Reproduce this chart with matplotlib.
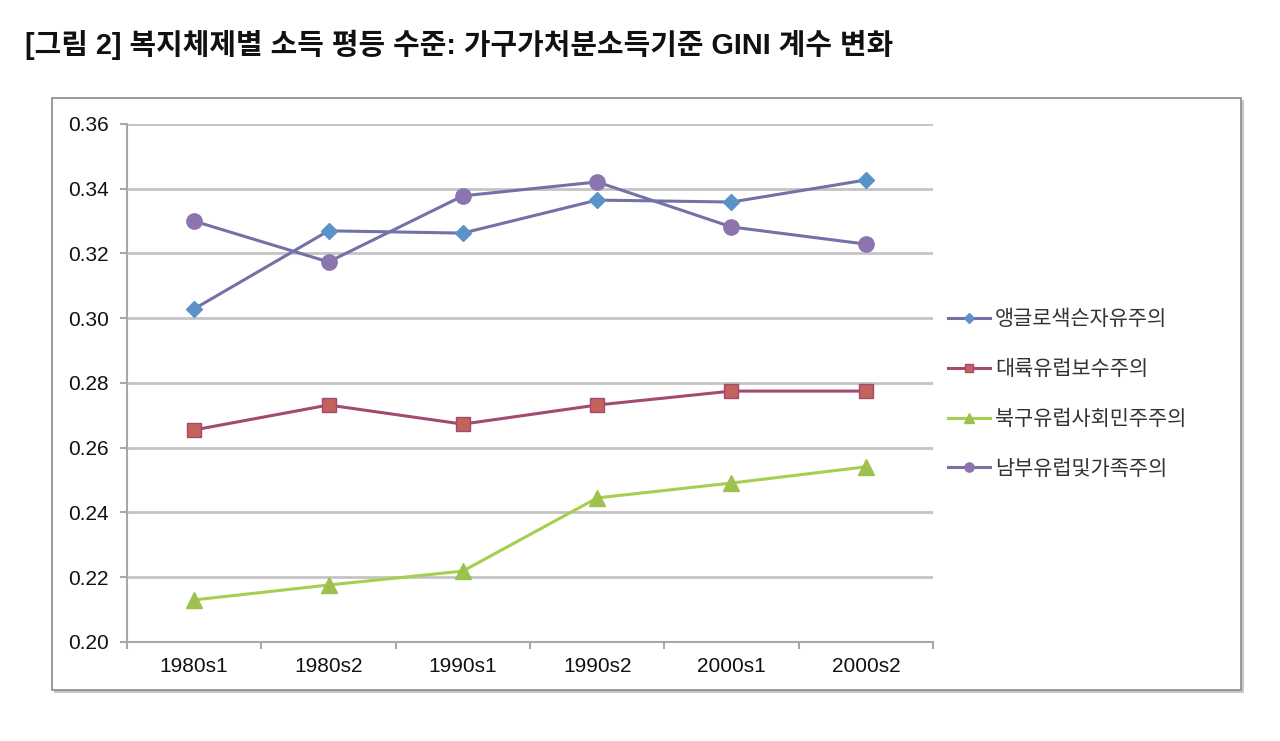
import matplotlib
matplotlib.use("Agg")
import matplotlib.pyplot as plt
from matplotlib.patches import Rectangle

plt.rcParams['font.family'] = ['Liberation Sans', 'Noto Sans CJK KR', 'DejaVu Sans']

title = "[그림 2] 복지체제별 소득 평등 수준: 가구가처분소득기준 GINI 계수 변화"

periods = ["1980s1", "1980s2", "1990s1", "1990s2", "2000s1", "2000s2"]
names = ["앵글로색슨자유주의", "대륙유럽보수주의", "북구유럽사회민주주의", "남부유럽및가족주의"]

anglo = [0.3029, 0.3270, 0.3263, 0.3365, 0.3359, 0.3427]
continental = [0.2655, 0.2732, 0.2673, 0.2732, 0.2775, 0.2775]
nordic = [0.2130, 0.2176, 0.2219, 0.2445, 0.2491, 0.2541]
southern = [0.3300, 0.3174, 0.3378, 0.3421, 0.3282, 0.3229]

yticks = [0.20, 0.22, 0.24, 0.26, 0.28, 0.30, 0.32, 0.34, 0.36]

fig = plt.figure(figsize=(12.8, 7.41), dpi=100)

# chart frame with a light shadow
W, H = 1280, 741
fig.patches.append(Rectangle((54 / W, 1 - 693 / H), 1190 / W, 593 / H,
                             transform=fig.transFigure, facecolor="#c8c8c8",
                             edgecolor="none", zorder=0))
fig.patches.append(Rectangle((52 / W, 1 - 690 / H), 1189 / W, 592 / H,
                             transform=fig.transFigure, facecolor="white",
                             edgecolor="#8a8a8a", linewidth=1.2, zorder=1))

fig.text(25 / W, 1 - 45 / H, title, fontsize=20.8, fontweight="bold",
         family=['Liberation Sans', 'Noto Sans CJK KR'], va="center", ha="left",
         color="#111111")

ax = fig.add_axes([127 / W, 1 - 642 / H, (933 - 127) / W, (642 - 124) / H])
ax.set_zorder(2)
ax.patch.set_alpha(0)

x = [i + 0.5 for i in range(len(periods))]

line_blue = "#7272a8"
ax.plot(x, anglo, color=line_blue, lw=2.2, marker="D", ms=8,
        mfc="#5b93c8", mec="#5b93c8", label=names[0], zorder=4)
ax.plot(x, continental, color="#a34a72", lw=2.2, marker="s", ms=10,
        mfc="#c4625c", mec="#a34a72", label=names[1], zorder=4)
ax.plot(x, nordic, color="#a6ce4f", lw=2.2, marker="^", ms=11,
        mfc="#9dc14f", mec="#9dc14f", label=names[2], zorder=4)
ax.plot(x, southern, color=line_blue, lw=2.2, marker="o", ms=11,
        mfc="#8c74ae", mec="#8c74ae", label=names[3], zorder=4)

ax.set_xlim(0, len(periods))
ax.set_ylim(0.20, 0.36)
ax.set_yticks(yticks)
ax.set_yticklabels([f"{v:.2f}" for v in yticks], fontsize=15, color="#111111")
ax.set_xticks(x)
ax.set_xticklabels(periods, fontsize=15, color="#111111")
ax.set_xticks(range(len(periods) + 1), minor=True)
ax.tick_params(axis="x", which="major", length=0, pad=11)
ax.tick_params(axis="x", which="minor", length=5, color="#a8a8a8", width=1.5)
ax.tick_params(axis="y", length=5, color="#a8a8a8", width=1.5, pad=8)

ax.grid(axis="y", color="#c4c4c4", lw=2)
ax.set_axisbelow(True)
for s in ["top", "right"]:
    ax.spines[s].set_visible(False)
for s in ["left", "bottom"]:
    ax.spines[s].set_color("#a8a8a8")
    ax.spines[s].set_linewidth(1.5)

leg = ax.legend(loc="upper left", bbox_to_anchor=(948 / W, 1 - 308 / H),
                bbox_transform=fig.transFigure, frameon=False,
                prop={"family": ["Noto Sans CJK KR"], "size": 15},
                labelspacing=1.34, handlelength=2.0, handletextpad=0.25,
                borderpad=0, borderaxespad=0, markerscale=0.6)
for t in leg.get_texts():
    t.set_color("#333333")

fig.savefig("out.png", dpi=100)
